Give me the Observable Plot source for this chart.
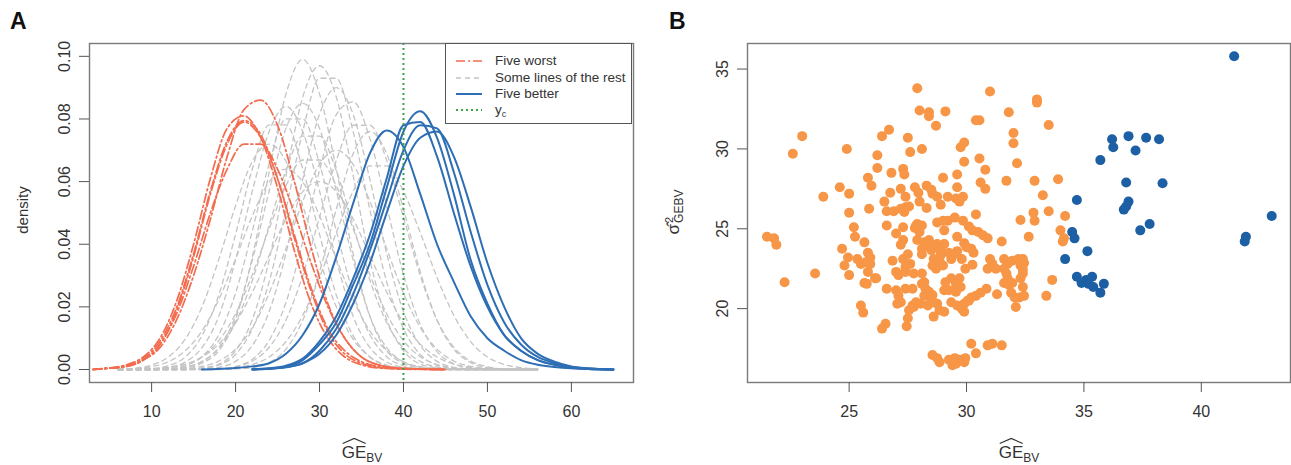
<!DOCTYPE html>
<html><head><meta charset="utf-8">
<script src="https://cdn.jsdelivr.net/npm/d3@7"></script>
<script src="https://cdn.jsdelivr.net/npm/@observablehq/plot@0.6"></script>
<style>
body{margin:0;background:#fff;font-family:"Liberation Sans",Arial,sans-serif;color:#333}
#wrap{position:relative;width:1291px;height:465px;overflow:hidden;background:#fff}
.panel{position:absolute;top:0}
.lab{position:absolute;white-space:nowrap;line-height:1}
.tag{font-weight:bold;font-size:23px;color:#111}
.hat{position:relative;display:inline-block}
.hat svg{position:absolute;left:0;top:-6px}
#legend{position:absolute;left:445px;top:43px;width:187px;height:81px;border:1.3px solid #555;background:#fff;box-sizing:border-box}
.row{position:absolute;left:0;height:16px;display:flex;align-items:center;font-size:13.5px;color:#333;white-space:nowrap;width:185px;line-height:16px}
.row svg{margin-left:10px;margin-right:13px;flex:none}
</style></head><body>
<div id="wrap">
  <div id="pa" class="panel" style="left:0"></div>
  <div id="pb" class="panel" style="left:645px"></div>
  <div class="lab tag" style="left:10px;top:10px">A</div>
  <div class="lab tag" style="left:669px;top:10px">B</div>
  <div class="lab" style="left:22px;top:210px;font-size:15px;transform:translate(-50%,-50%) rotate(-90deg)">density</div>
  <div class="lab" id="xla" style="left:362px;top:452px;font-size:17px;transform:translate(-50%,-50%)"></div>
  <div class="lab" id="xlb" style="left:1019px;top:452px;font-size:17px;transform:translate(-50%,-50%)"></div>
  <div class="lab" style="left:675px;top:212px;font-size:17px;transform:translate(-50%,-50%) rotate(-90deg)">
    <span>σ̂</span><span style="display:inline-block;vertical-align:middle;line-height:0.95;font-size:11px;margin-left:1px"><span style="display:block">2</span><span style="display:block;font-size:12px">GEBV</span></span>
  </div>
  <div id="legend"></div>
</div>
<script>
// ---------- Panel A: densities ----------
const worstX = [3,5,7,9,11,13,15,17,19,21,23,25,27,29,31,33,35,37,40,45];
const worst1 = [0,0.0005,0.001,0.003,0.007,0.016,0.030,0.048,0.068,0.083,0.086,0.078,0.060,0.039,0.021,0.010,0.004,0.0015,0.0003,0];
const worst2 = [0,0.0005,0.0015,0.004,0.010,0.022,0.040,0.061,0.077,0.081,0.074,0.058,0.038,0.021,0.010,0.004,0.0015,0.0005,0.0001,0];
const worst3 = [0,0.0005,0.0012,0.0035,0.009,0.020,0.037,0.057,0.073,0.0795,0.075,0.061,0.042,0.025,0.012,0.005,0.002,0.0007,0.0002,0];
const worst4 = [0,0.0004,0.001,0.003,0.008,0.019,0.036,0.056,0.072,0.079,0.074,0.061,0.043,0.026,0.013,0.006,0.0025,0.001,0.0003,0];
const worst5 = [0,0.0004,0.001,0.003,0.008,0.018,0.033,0.050,0.064,0.072,0.072,0.064,0.050,0.034,0.020,0.010,0.004,0.0015,0.0004,0];

const restX = [6,8,10,12,14,16,18,20,22,24,26,28,30,32,34,36,38,40,42,44,46,48,50,52,54,56];
const rest1 = [0,0,0,0.0001,0.0005,0.002,0.006,0.016,0.036,0.063,0.088,0.099,0.088,0.064,0.037,0.017,0.006,0.002,0.0005,0.0001,0,0,0,0,0,0];
const rest2 = [0,0,0,0,0.0001,0.0005,0.0017,0.006,0.016,0.035,0.062,0.087,0.097,0.087,0.062,0.035,0.016,0.006,0.0017,0.0005,0.0001,0,0,0,0,0];
const rest3 = [0,0,0,0.0001,0.0001,0.0004,0.0014,0.0048,0.013,0.028,0.051,0.076,0.093,0.093,0.076,0.051,0.028,0.013,0.0048,0.0014,0.0004,0.0001,0,0,0,0];
const rest4 = [0,0,0.0002,0.0007,0.0024,0.007,0.017,0.035,0.057,0.076,0.084,0.076,0.057,0.035,0.017,0.007,0.0024,0.0007,0.0002,0,0,0,0,0,0,0];
const rest5 = [0,0,0,0.0002,0.0007,0.0024,0.007,0.017,0.035,0.057,0.077,0.085,0.077,0.057,0.035,0.017,0.007,0.0024,0.0007,0.0002,0,0,0,0,0,0];
const rest6 = [0,0,0,0,0,0.0001,0.0002,0.0009,0.0033,0.0093,0.0214,0.0408,0.0636,0.0814,0.0855,0.0737,0.0522,0.0303,0.0144,0.0057,0.0018,0.0005,0.0001,0,0,0];
const rest7 = [0,0,0,0,0,0.0001,0.0002,0.0009,0.0027,0.0071,0.0158,0.030,0.0486,0.0668,0.078,0.078,0.0668,0.0486,0.030,0.0158,0.0071,0.0027,0.0009,0.0002,0.0001,0];
const rest8 = [0.0001,0.0004,0.0014,0.004,0.0097,0.020,0.0351,0.0523,0.0665,0.072,0.0665,0.0523,0.0351,0.020,0.0097,0.004,0.0014,0.0004,0.0001,0,0,0,0,0,0,0];
const rest9 = [0,0,0,0.0001,0.0003,0.001,0.0027,0.0065,0.0134,0.0244,0.0386,0.0537,0.0655,0.070,0.0655,0.0537,0.0386,0.0244,0.0134,0.0065,0.0027,0.001,0.0003,0.0001,0,0];
const rest10 = [0,0.0001,0.0002,0.0006,0.0016,0.0041,0.0092,0.0178,0.0303,0.045,0.0586,0.0669,0.0669,0.0586,0.045,0.0303,0.0178,0.0092,0.0041,0.0016,0.0006,0.0002,0.0001,0,0,0];
const rest11 = [0,0,0.0001,0.0003,0.0012,0.0041,0.0111,0.0244,0.0443,0.0657,0.080,0.080,0.0657,0.0443,0.0244,0.0111,0.0041,0.0012,0.0003,0.0001,0,0,0,0,0,0];
const rest12 = [0,0,0,0,0,0,0,0.0002,0.0006,0.0022,0.0065,0.0157,0.0312,0.0512,0.0689,0.076,0.0689,0.0512,0.0312,0.0157,0.0065,0.0022,0.0006,0.0002,0,0];
const rest13 = [0,0,0,0,0,0.0002,0.0007,0.0026,0.0077,0.0185,0.037,0.0607,0.0815,0.090,0.0815,0.0607,0.037,0.0185,0.0077,0.0026,0.0007,0.0002,0,0,0,0];
const rest14 = [0,0,0,0.0002,0.0008,0.0026,0.0068,0.015,0.0285,0.0461,0.0635,0.0745,0.0745,0.0635,0.0461,0.0285,0.015,0.0068,0.0026,0.0008,0.0002,0,0,0,0,0];
const rest15 = [0,0.0001,0.0003,0.0012,0.004,0.0108,0.0238,0.0432,0.0641,0.0781,0.0781,0.0641,0.0432,0.0238,0.0108,0.004,0.0012,0.0003,0.0001,0,0,0,0,0,0,0];
const rest16 = [0,0,0,0,0,0,0.0002,0.0006,0.0016,0.004,0.0089,0.0173,0.0294,0.0437,0.0569,0.065,0.065,0.0569,0.0437,0.0294,0.0173,0.0089,0.004,0.0016,0.0006,0.0002];
const rest17 = [0,0.0001,0.0002,0.0007,0.0017,0.004,0.0081,0.0149,0.0247,0.0364,0.0481,0.0568,0.060,0.0568,0.0481,0.0364,0.0247,0.0149,0.0081,0.004,0.0017,0.0007,0.0002,0.0001,0,0];
const rest18 = [0.0001,0.0003,0.0009,0.0025,0.006,0.0123,0.0223,0.0353,0.0491,0.0599,0.064,0.0599,0.0491,0.0353,0.0223,0.0123,0.006,0.0025,0.0009,0.0003,0.0001,0,0,0,0,0];

const betterX = [16,20,22,24,26,28,30,32,34,36,38,40,42,44,46,48,50,52,54,56,58,60,62,65];
const better1 = [0,0.0005,0.001,0.002,0.005,0.011,0.021,0.036,0.053,0.069,0.0763,0.071,0.056,0.040,0.028,0.017,0.010,0.006,0.003,0.0015,0.0008,0.0004,0.0002,0];
const better2 = [null,null,0.0001,0.0003,0.001,0.003,0.008,0.015,0.027,0.040,0.058,0.076,0.0825,0.074,0.056,0.035,0.021,0.011,0.006,0.003,0.0015,0.0006,0.0002,0];
const better3 = [null,null,0.0001,0.0004,0.0012,0.0035,0.009,0.017,0.029,0.043,0.061,0.078,0.079,0.068,0.050,0.033,0.020,0.011,0.006,0.003,0.0015,0.0006,0.0002,0];
const better4 = [null,null,0,0.0002,0.0008,0.002,0.006,0.013,0.024,0.038,0.054,0.070,0.078,0.077,0.063,0.044,0.027,0.015,0.008,0.004,0.002,0.0008,0.0003,0];
const better5 = [null,null,0,0.0002,0.0007,0.002,0.005,0.011,0.021,0.034,0.050,0.065,0.074,0.076,0.068,0.052,0.034,0.020,0.010,0.005,0.0025,0.001,0.0004,0];

const yc = 40;
const ticksAx = [10,20,30,40,50,60];
const ticksAy = [0,0.02,0.04,0.06,0.08,0.10];
const legendLabels = ["Five worst","Some lines of the rest","Five better","y"];

// ---------- Panel B: scatter ----------
const orangeX = [21.5,21.8,21.9,22.25,22.6,23.0,23.55,23.9,24.6,24.9,25.0,25.0,25.2,25.25,25.65,24.7,24.95,24.8,25.0,25.35,25.5,25.8,25.9,25.9,25.7,25.8,26.1,25.65,25.5,25.6,26.4,26.55,25.8,25.95,25.85,26.2,26.2,26.4,26.7,26.5,26.6,26.75,26.8,26.6,27.0,27.3,27.3,27.2,27.2,27.3,27.35,27.2,27.4,27.55,27.35,27.5,27.6,27.4,27.8,27.95,27.9,28.0,28.4,28.4,29.1,28.7,28.1,28.3,28.5,28.55,28.75,29.0,29.6,29.6,29.2,29.55,29.7,29.85,27.9,28.1,27.8,28.75,29.0,29.2,29.5,29.85,29.05,29.75,29.9,29.9,30.4,30.55,30.55,30.8,30.6,30.8,30.4,30.1,30.25,30.5,31.0,33.0,33.0,31.8,33.5,32.0,32.0,32.15,31.7,32.9,33.9,33.25,32.85,32.9,33.5,34.2,32.3,34.0,34.15,32.65,31.5,30.7,30.9,29.9,30.0,30.2,30.3,29.8,30.25,29.95,30.9,31.1,31.25,31.0,31.6,31.75,31.95,32.2,32.4,32.45,32.3,31.6,31.7,31.75,31.6,31.8,31.95,32.4,32.4,32.3,32.4,32.45,32.25,32.05,32.1,31.9,31.3,30.85,30.6,30.4,30.2,30.05,29.9,29.8,33.65,33.4,34.1,31.5,31.1,30.9,30.2,30.4,29.95,29.7,28.55,28.85,28.75,29.25,29.4,29.5,29.55,29.9,26.85,27.3,27.5,27.6,27.4,27.0,27.1,27.4,27.75,28.1,26.6,27.0,27.1,27.2,27.05,27.4,27.7,27.7,27.55,27.5,27.45,27.85,28.0,27.9,28.2,28.4,28.1,28.1,28.5,28.4,28.1,28.25,28.4,28.5,28.35,28.05,28.2,28.55,28.7,28.85,28.9,29.0,28.6,28.75,29.05,28.9,29.25,29.5,29.35,29.6,29.6,29.1,29.35,29.55,29.7,29.75,29.05,29.25,29.55,28.6,29.35,29.6,28.85,29.05,29.9,30.1,26.15,28.75,28.6,27.85,27.75,28.2,28.55,25.75,26.9,28.3,28.9,28.0];
const orangeY = [24.5,24.4,24.0,21.65,29.7,30.8,22.2,27.0,27.6,30.0,27.2,26.0,25.1,24.5,24.15,23.75,23.2,22.7,22.1,23.1,22.8,23.5,23.2,22.8,22.9,22.3,21.9,21.6,20.2,19.75,18.75,19.05,28.2,27.7,26.25,29.6,28.8,30.8,31.2,26.7,26.1,27.25,28.5,25.2,24.7,25.1,24.3,24.0,27.5,28.75,28.4,26.25,26.35,26.4,26.05,30.7,29.8,27.0,27.6,27.25,33.8,32.4,32.3,32.05,32.35,31.45,30.0,27.7,27.45,27.2,27.0,28.2,28.4,27.6,27.0,26.9,26.7,27.0,25.3,25.2,25.05,25.4,25.5,25.5,25.7,25.5,24.9,30.1,30.4,29.2,31.8,31.8,29.4,28.7,27.9,27.5,25.9,25.15,24.9,24.8,33.6,33.1,32.9,32.3,31.5,31.0,30.35,29.1,28.0,28.0,28.1,27.1,26.0,25.5,26.1,25.8,25.55,24.9,24.4,24.5,24.2,24.6,24.4,24.1,23.85,23.75,23.5,23.1,22.75,22.5,22.5,22.8,22.5,23.1,23.1,22.8,23.0,23.1,23.1,22.85,22.7,22.5,22.2,21.9,21.6,21.5,21.6,22.45,22.2,21.9,21.35,20.8,20.7,20.7,20.1,21.0,20.9,21.25,21.0,20.8,20.7,20.5,20.3,20.0,21.8,20.8,24.2,17.7,17.8,17.7,17.8,17.2,16.9,16.8,17.1,16.65,16.9,16.8,16.45,16.9,16.55,16.65,23.0,23.1,23.4,22.8,22.6,22.3,22.1,22.3,22.2,22.2,21.25,21.15,20.8,20.4,20.3,21.25,21.25,20.2,19.9,19.4,18.9,25.2,24.8,24.3,24.15,24.3,23.75,23.4,23.65,23.9,21.55,21.25,21.05,20.5,20.2,20.3,20.8,22.7,22.5,23.0,23.35,22.7,23.1,24.05,24.05,23.65,23.5,23.4,23.1,23.6,24.5,21.65,21.9,21.55,21.9,21.35,21.15,21.15,21.05,19.5,20.4,20.2,19.9,19.8,19.8,20.5,21.9,20.3,20.4,20.4,20.1,21.65,20.85,21.55,26.1,26.3,26.5,26.7];
const blueX = [41.4,36.2,36.25,36.9,37.65,38.2,37.2,35.7,36.8,38.35,34.7,36.9,36.8,36.7,43.0,37.4,37.8,34.5,34.6,41.9,41.85,34.2,35.15,34.7,34.9,35.1,35.35,35.2,35.4,35.85,35.7];
const blueY = [35.8,30.6,30.1,30.8,30.7,30.6,29.9,29.3,27.9,27.85,26.8,26.7,26.4,26.2,25.8,24.9,25.3,24.8,24.4,24.5,24.2,23.1,23.6,22.0,21.6,21.8,22.0,21.55,21.35,21.55,21.0];
const ticksBx = [25,30,35,40];
const ticksBy = [20,25,30,35];

// ---------- colours ----------
const cWorst = "#f36c4f", cRest = "#c4c4c4", cBetter = "#2d6eb4", cYc = "#3aa346";
const cOrange = "#f79646", cBlue = "#1c5fa4";
const dashWorst = "9,3,2,3", dashRest = "5,4", dashYc = "2,3";

function toRows(xs, curves) {
  return curves.flatMap((ys, k) => ys.map((y, i) => ({x: xs[i], y, k})).filter(d => d.y != null));
}
const worstData = toRows(worstX, [worst1, worst2, worst3, worst4, worst5]);
const restData = toRows(restX, [rest1,rest2,rest3,rest4,rest5,rest6,rest7,rest8,rest9,rest10,rest11,rest12,rest13,rest14,rest15,rest16,rest17,rest18]);
const betterData = toRows(betterX, [better1, better2, better3, better4, better5]);

const font = '"Liberation Sans", Arial, sans-serif';
const plotA = Plot.plot({
  width: 645, height: 465,
  marginLeft: 89, marginRight: 12, marginTop: 43, marginBottom: 83,
  x: {domain: [2.6, 67.4]},
  y: {domain: [-0.00415, 0.1041]},
  style: {fontSize: "16px", fontFamily: font, color: "#333", background: "transparent"},
  marks: [
    Plot.line(restData, {x: "x", y: "y", z: "k", stroke: cRest, strokeWidth: 1.3, strokeDasharray: dashRest, curve: "monotone-x"}),
    Plot.line(worstData, {x: "x", y: "y", z: "k", stroke: cWorst, strokeWidth: 1.7, strokeDasharray: dashWorst, curve: "monotone-x"}),
    Plot.line(betterData, {x: "x", y: "y", z: "k", stroke: cBetter, strokeWidth: 2, curve: "monotone-x"}),
    Plot.ruleX([yc], {stroke: cYc, strokeWidth: 2, strokeDasharray: dashYc}),
    Plot.frame({stroke: "#7a7a7a", strokeWidth: 1.4}),
    Plot.axisX({ticks: ticksAx, tickSize: 10, tickPadding: 13, label: null, stroke: "#555"}),
    Plot.axisY({ticks: ticksAy, tickFormat: d3.format(".2f"), tickSize: 10, tickPadding: 10, tickRotate: -90, label: null, stroke: "#555"})
  ]
});
document.getElementById("pa").appendChild(plotA);

const orangeData = orangeX.slice(0, Math.min(orangeX.length, orangeY.length)).map((x, i) => ({x, y: orangeY[i]}));
const blueData = blueX.map((x, i) => ({x, y: blueY[i]}));
const plotB = Plot.plot({
  width: 646, height: 465,
  marginLeft: 102, marginRight: 1, marginTop: 43, marginBottom: 83,
  x: {domain: [20.67, 43.8]},
  y: {domain: [15.375, 36.6]},
  style: {fontSize: "16px", fontFamily: font, color: "#333", background: "transparent"},
  marks: [
    Plot.dot(orangeData, {x: "x", y: "y", r: 5, fill: cOrange, stroke: "none"}),
    Plot.dot(blueData, {x: "x", y: "y", r: 5, fill: cBlue, stroke: "none"}),
    Plot.frame({stroke: "#7a7a7a", strokeWidth: 1.4}),
    Plot.axisX({ticks: ticksBx, tickSize: 10, tickPadding: 13, label: null, stroke: "#555"}),
    Plot.axisY({ticks: ticksBy, tickSize: 10, tickPadding: 10, tickRotate: -90, label: null, stroke: "#555"})
  ]
});
document.getElementById("pb").appendChild(plotB);

// axis titles with wide hat
function hatLabel(el) {
  el.innerHTML = '<span class="hat">GE<svg width="25" height="7" viewBox="0 0 25 7"><path d="M1,6 L12.5,1 L24,6" fill="none" stroke="#333" stroke-width="1.2"/></svg></span><span style="font-size:12px;position:relative;top:4px">BV</span>';
}
hatLabel(document.getElementById("xla"));
hatLabel(document.getElementById("xlb"));

// legend
const legend = document.getElementById("legend");
const styles = [
  {stroke: cWorst, dash: dashWorst, w: 1.7},
  {stroke: cRest, dash: dashRest, w: 1.3},
  {stroke: cBetter, dash: null, w: 2},
  {stroke: cYc, dash: dashYc, w: 2}
];
const rowTops = [9, 26, 42, 58];
legendLabels.forEach((lab, i) => {
  const row = document.createElement("div");
  row.className = "row";
  row.style.top = rowTops[i] + "px";
  const s = styles[i];
  const text = i === 3 ? 'y<span style="font-size:9px;position:relative;top:3px">c</span>' : lab;
  row.innerHTML = `<svg width="26" height="6"><line x1="0" x2="26" y1="3" y2="3" stroke="${s.stroke}" stroke-width="${s.w}" ${s.dash ? `stroke-dasharray="${s.dash}"` : ""}/></svg><span>${text}</span>`;
  legend.appendChild(row);
});
</script>
</body></html>
